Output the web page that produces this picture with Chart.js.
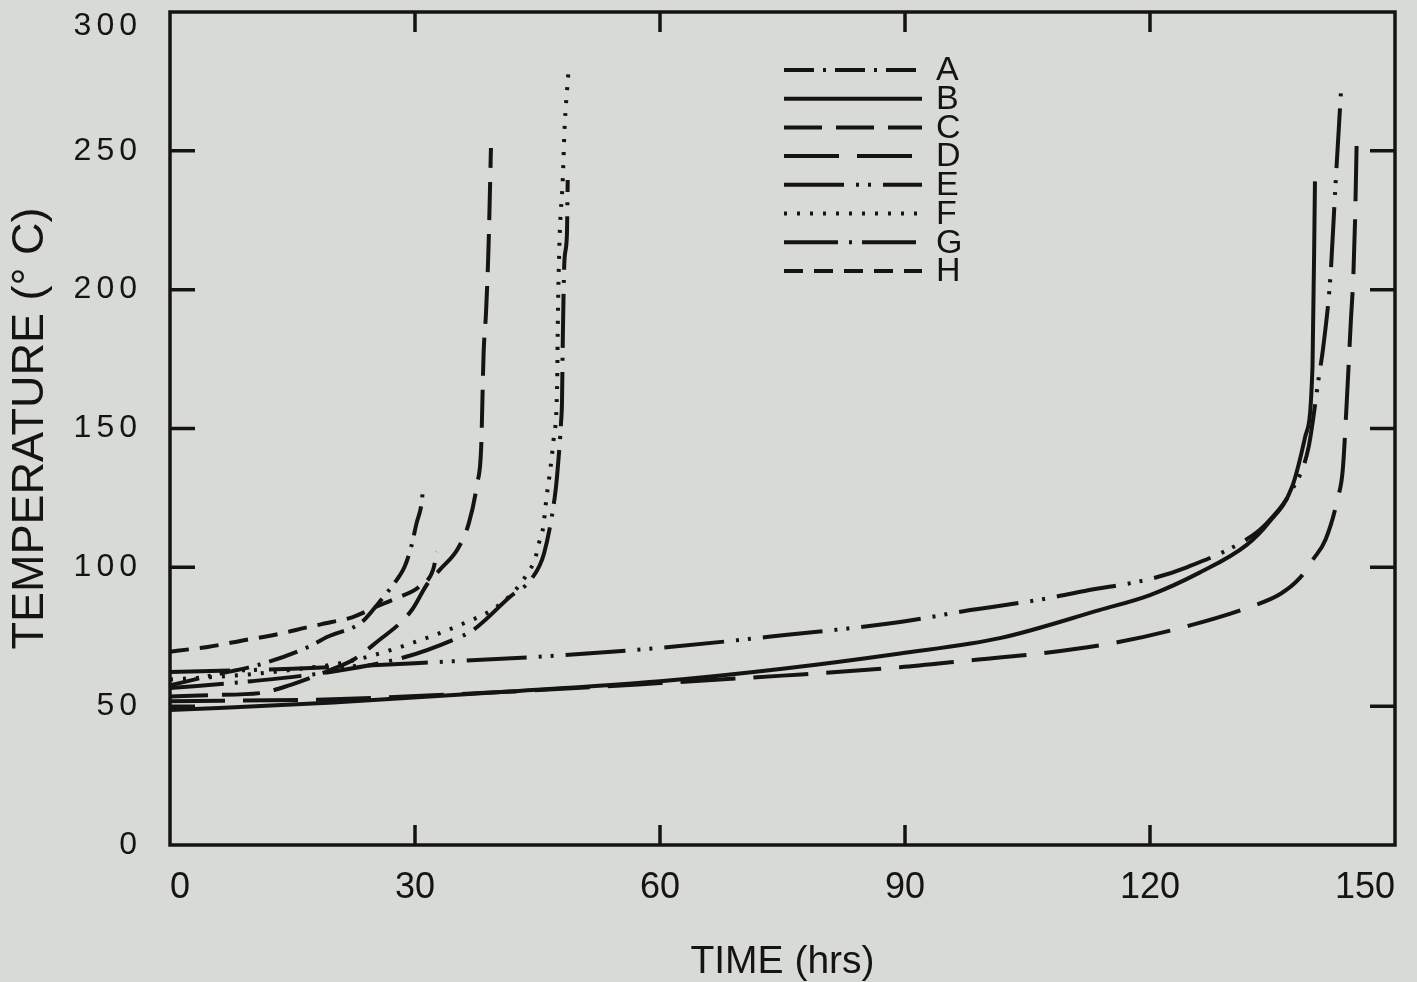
<!DOCTYPE html>
<html>
<head>
<meta charset="utf-8">
<script src="https://cdn.jsdelivr.net/npm/chart.js@4.4.1/dist/chart.umd.min.js"></script>
<style>
  html, body { margin: 0; padding: 0; background: #d8dad5; }
  #grafico { display: block; }
</style>
</head>
<body>
<canvas id="grafico" width="1417" height="982"></canvas>
<script>
// valores: tempo (h) e temperatura (°C) de cada serie
const nomes = ["A", "B", "C", "D", "E", "F", "G", "H"];

const tempoA = [0, 5, 11, 16.9, 19.3, 23.5, 25.5, 28, 28.7, 29.5, 30.2, 30.8, 31.0];
const tempA = [57.5, 61, 65, 71.3, 75, 80.3, 87, 96.5, 100, 107, 116, 123, 129];

const tempoB = [0, 20, 40, 60, 75, 89.4, 101.6, 113.8, 120, 126, 131.8, 134.5, 137.4, 139, 139.9, 140.2];
const tempB = [48.6, 51.3, 55, 59, 63.5, 69, 74.5, 84.6, 90, 98, 108, 116, 129, 147, 172.5, 239];

const tempoC = [0, 5, 11, 14.7, 19.6, 22.6, 25.7, 28.2, 29.7, 31.5, 33, 35.3, 36.6, 37.6, 38.1, 38.4, 38.7, 39.0, 39.3];
const tempC = [53.5, 54, 54.7, 57.6, 63, 67, 74, 80, 85, 94, 99, 107, 116, 130, 143, 177, 192, 215, 251];

const tempoD = [0, 20, 40, 60, 75, 89.4, 98, 106.7, 116, 124.8, 132.2, 136, 138.3, 140, 141.5, 143, 143.6, 144.1, 144.6, 144.9, 145.1, 145.3];
const tempD = [51.8, 52.5, 55, 58.3, 61, 64, 66.5, 69, 73, 79, 85.7, 90.5, 96, 103, 110, 125, 135, 160, 189, 205, 224, 252];

const tempoE = [0, 15, 30, 45, 60, 75, 89.4, 98, 107, 112, 120.3, 124.5, 131.8, 134, 137.4, 139.4, 140.7, 141.2, 142.1, 142.7, 143.4];
const tempE = [62.3, 63.5, 65.5, 67.8, 71, 75.5, 80.3, 84.6, 88.6, 91.5, 96, 100, 110, 115, 128, 143, 169, 179, 205, 237, 272];

const tempoF = [0, 10, 16, 20, 24.1, 30.4, 35.3, 40.1, 42.8, 43.8, 44.7, 45.2, 45.7, 46.1, 46.6, 47.0, 47.4, 47.5, 47.7, 48.1, 48.3, 48.8];
const tempF = [59.6, 61.5, 63.5, 65, 67.7, 73.5, 79, 86, 93.6, 98, 103, 109, 114.5, 125, 136, 147, 165, 191, 218, 240, 257, 279];

const tempoG = [0, 10, 20, 28.8, 34.6, 37.1, 41.6, 44.3, 45.8, 47.1, 47.4, 47.9, 48.0, 48.1, 48.3, 48.6, 48.7];
const tempG = [56.5, 59, 62.5, 67.7, 73.8, 77.4, 89.3, 96, 105, 125, 133, 153, 159.5, 182.6, 210.6, 219.6, 239.5];

const tempoH = [0, 2.7, 4.6, 6.7, 8.6, 11.6, 13.8, 16.9, 19.8, 22.3, 25.7, 27.8, 30.5, 32.2, 32.7];
const tempH = [69.6, 70.6, 71.3, 72.4, 73.5, 75, 76.3, 78.5, 80.3, 82, 86.4, 89, 93, 99, 105.5];

const ticksX = [0, 30, 60, 90, 120, 150];
const ticksY = [0, 50, 100, 150, 200, 250, 300];

const corFundo = "#d8dad5";
const corTinta = "#141414";

// tracejados de cada curva, igual a legenda
const tracos = [
  [30, 9, 3, 9],
  [],
  [38, 14],
  [55, 18],
  [60, 12, 3, 9, 3, 12],
  [3, 10],
  [54, 11, 3, 10],
  [19, 11]
];

const tempos = [tempoA, tempoB, tempoC, tempoD, tempoE, tempoF, tempoG, tempoH];
const temps = [tempA, tempB, tempC, tempD, tempE, tempF, tempG, tempH];

const juntaPontos = (ts, vs) => ts.map((t, i) => ({ x: t, y: vs[i] }));

const datasets = nomes.map((nome, i) => ({
  label: nome,
  data: juntaPontos(tempos[i], temps[i]),
  borderColor: corTinta,
  borderWidth: 4,
  borderDash: tracos[i],
  pointRadius: 0,
  fill: false,
  cubicInterpolationMode: "monotone"
}));

const fonte = "'Liberation Sans', Arial, Helvetica, sans-serif";

// tira a folga que o chart.js reserva para os rotulos das pontas
function semFolga(s) {
  s.paddingTop = 0;
  s.paddingBottom = 0;
  s.paddingLeft = 0;
  s.paddingRight = 0;
}

const fundo = {
  id: "fundo",
  beforeDraw(chart) {
    const ctx = chart.ctx;
    ctx.save();
    ctx.fillStyle = corFundo;
    ctx.fillRect(0, 0, chart.width, chart.height);
    ctx.restore();
  }
};

const moldura = {
  id: "moldura",
  afterDraw(chart) {
    const ctx = chart.ctx;
    const a = chart.chartArea;
    const x = chart.scales.x;
    const y = chart.scales.y;
    ctx.save();
    ctx.strokeStyle = corTinta;
    ctx.lineWidth = 3.5;
    ctx.setLineDash([]);
    ctx.strokeRect(a.left, a.top, a.right - a.left, a.bottom - a.top);

    // marcas para dentro nos quatro lados
    ctx.beginPath();
    ticksY.slice(1, -1).forEach(v => {
      const py = y.getPixelForValue(v);
      ctx.moveTo(a.left, py);
      ctx.lineTo(a.left + 25, py);
      ctx.moveTo(a.right, py);
      ctx.lineTo(a.right - 25, py);
    });
    ticksX.slice(1, -1).forEach(v => {
      const px = x.getPixelForValue(v);
      ctx.moveTo(px, a.bottom);
      ctx.lineTo(px, a.bottom - 20);
      ctx.moveTo(px, a.top);
      ctx.lineTo(px, a.top + 20);
    });
    ctx.stroke();

    // rotulos do eixo y, espacados; o de cima desce um pouco como no original
    ctx.fillStyle = corTinta;
    ctx.font = "32px " + fonte;
    ctx.letterSpacing = "5px";
    ctx.textAlign = "right";
    ctx.textBaseline = "middle";
    ticksY.forEach(v => {
      const py = Math.max(y.getPixelForValue(v), a.top + 14);
      ctx.fillText(String(v), a.left - 28, py);
    });
    ctx.letterSpacing = "0px";

    // legenda
    const x0 = a.left + 614;
    const x1 = a.left + 752;
    const y0 = a.top + 58;
    const passo = 28.7;
    ctx.lineWidth = 4;
    ctx.font = "34px " + fonte;
    ctx.textAlign = "left";
    chart.data.datasets.forEach((ds, i) => {
      const ly = y0 + i * passo;
      ctx.setLineDash(ds.borderDash);
      ctx.beginPath();
      ctx.moveTo(x0, ly);
      ctx.lineTo(x1, ly);
      ctx.stroke();
      ctx.fillText(ds.label, x1 + 14, ly + 1);
    });
    ctx.restore();
  }
};

new Chart(document.getElementById("grafico"), {
  type: "line",
  data: { datasets },
  options: {
    responsive: false,
    animation: false,
    layout: { padding: { left: 0, right: 22, top: 12, bottom: 0 }, autoPadding: false },
    plugins: {
      legend: { display: false },
      tooltip: { enabled: false }
    },
    scales: {
      x: {
        type: "linear",
        min: 0,
        max: 150,
        afterBuildTicks: (s) => { s.ticks = ticksX.map(v => ({ value: v })); },
        afterFit: (s) => { s.height = 137; semFolga(s); },
        ticks: { color: corTinta, font: { family: fonte, size: 36 }, padding: 21, align: "inner" },
        grid: { display: false, drawTicks: false },
        border: { display: false },
        title: {
          display: true,
          text: "TIME (hrs)",
          color: corTinta,
          font: { family: fonte, size: 39, lineHeight: 1 },
          padding: { top: 0, bottom: 0 }
        }
      },
      y: {
        type: "linear",
        min: 0,
        max: 300,
        afterBuildTicks: (s) => { s.ticks = ticksY.map(v => ({ value: v })); },
        afterFit: (s) => { s.width = 170; semFolga(s); },
        ticks: { display: false },
        grid: { display: false, drawTicks: false },
        border: { display: false },
        title: {
          display: true,
          text: "TEMPERATURE (° C)",
          color: corTinta,
          font: { family: fonte, size: 45 },
          padding: { top: 4, bottom: 0 }
        }
      }
    }
  },
  plugins: [fundo, moldura]
});
</script>
</body>
</html>
